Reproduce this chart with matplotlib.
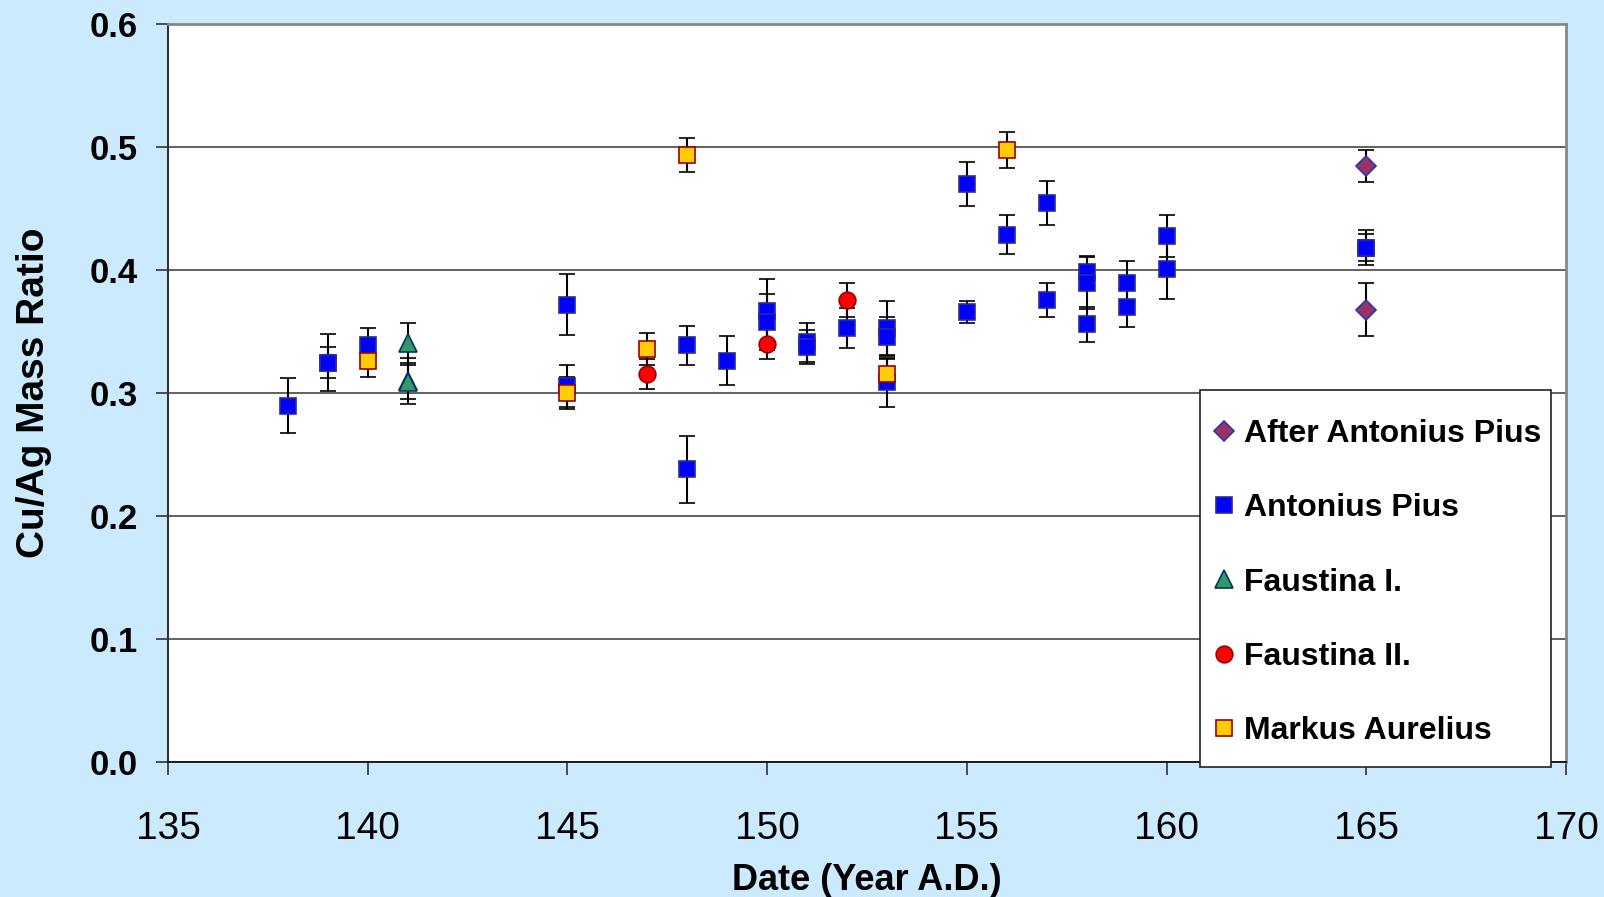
import matplotlib.pyplot as plt
from matplotlib.lines import Line2D
from matplotlib.patches import Rectangle

# -----------------------------
# data
# -----------------------------
after_x = [165, 165]
after_y = [0.485, 0.368]
after_err = [0.013, 0.0215]

anton_x = [138, 139, 139, 140, 145, 145, 148, 148, 149, 150, 150, 151, 151, 152,
           153, 153, 153, 155, 155, 156, 157, 157, 158, 158, 158, 159, 159,
           160, 160, 165, 165]
anton_y = [0.290, 0.325, 0.325, 0.339, 0.372, 0.306, 0.339, 0.238, 0.3265, 0.367,
           0.358, 0.3415, 0.3375, 0.353, 0.353, 0.346, 0.309, 0.470, 0.366,
           0.429, 0.455, 0.376, 0.399, 0.3895, 0.356, 0.3895, 0.3705,
           0.428, 0.401, 0.4185, 0.4185]
anton_err = [0.022, 0.023, 0.013, 0.014, 0.025, 0.017, 0.016, 0.027, 0.020, 0.026,
             0.023, 0.016, 0.014, 0.016, 0.022, 0.016, 0.020, 0.018, 0.009,
             0.016, 0.018, 0.014, 0.013, 0.021, 0.014, 0.018, 0.017,
             0.017, 0.024, 0.014, 0.011]

faust1_x = [141, 141, 141]
faust1_y = [0.341, 0.310, 0.309]
faust1_err = [0.016, 0.019, 0.014]

faust2_x = [147, 150, 152]
faust2_y = [0.3155, 0.340, 0.376]
faust2_err = [0.012, 0.012, 0.014]

markus_x = [140, 145, 147, 148, 153, 156]
markus_y = [0.326, 0.300, 0.336, 0.494, 0.3155, 0.498]
markus_err = [0.013, 0.013, 0.013, 0.014, 0.012, 0.0145]

serie = [
    ("After Antonius Pius", after_x, after_y, after_err, "D", "#993366", "#3333AA", 10),
    ("Antonius Pius", anton_x, anton_y, anton_err, "s", "#0000FF", "#2A2A9A", 11.5),
    ("Faustina I.", faust1_x, faust1_y, faust1_err, "^", "#339966", "#003366", 13),
    ("Faustina II.", faust2_x, faust2_y, faust2_err, "o", "#FF0000", "#990000", 12),
    ("Markus Aurelius", markus_x, markus_y, markus_err, "s", "#FFCC00", "#990000", 11.5),
]

BG = "#CCEAFD"
plt.rcParams["font.family"] = ["Liberation Sans", "DejaVu Sans"]

fig = plt.figure(figsize=(16.04, 8.97), dpi=100, facecolor=BG)
ax = fig.add_axes([0.1047, 0.1505, 0.8716, 0.8222])
ax.set_facecolor("white")

handles = []
for nazev, x, y, err, mk, fc, ec, ms in serie:
    ax.errorbar(x, y, yerr=err, fmt=mk, ms=ms, mfc=fc, mec=ec, mew=1.2,
                ecolor="black", elinewidth=1.5, capsize=6, capthick=1.5,
                zorder=3)
    handles.append(Line2D([], [], ls="none", marker=mk, ms=ms, mfc=fc,
                          mec=ec, mew=1.2, label=nazev))

ax.set_xlim(135, 170)
ax.set_ylim(0, 0.6)
ax.set_xticks(range(135, 171, 5))
ax.set_yticks([i / 10 for i in range(7)])
ax.set_yticklabels([f"{i / 10:.1f}" for i in range(7)])

ax.grid(True, axis="y", color="#555555", lw=1.3, zorder=0)
ax.set_axisbelow(True)

for s in ["top", "right"]:
    ax.spines[s].set_color("#888888")
    ax.spines[s].set_linewidth(2)
ax.spines["left"].set_color("#333333")
ax.spines["bottom"].set_color("#111111")
ax.spines["left"].set_linewidth(1.5)
ax.spines["bottom"].set_linewidth(1.3)

ax.tick_params(axis="y", direction="out", length=9, width=1.2, pad=13,
               labelsize=25, color="#333333")
ax.tick_params(axis="x", direction="out", length=9, width=1.2, pad=26,
               labelsize=28, color="#333333")
for t in ax.get_yticklabels():
    t.set_fontweight("bold")

ax.set_xlabel("Date (Year A.D.)", fontsize=26, fontweight="bold")
ax.set_ylabel("Cu/Ag Mass Ratio", fontsize=28, fontweight="bold")
ax.xaxis.set_label_coords(0.5, -0.137)
ax.yaxis.set_label_coords(-0.083, 0.5)

# rámeček legendy
fig.patches.append(Rectangle((1200 / 1604, 1 - 767 / 897), 351 / 1604, 377 / 897,
                             transform=fig.transFigure, facecolor="white",
                             edgecolor="#222222", lw=1.2, zorder=5))

leg = fig.legend(handles=handles, loc="upper left",
                 bbox_to_anchor=(1194 / 1604, 1 - 390 / 897),
                 borderaxespad=0, prop={"size": 23, "weight": "bold"},
                 frameon=False, handlelength=0.1, handletextpad=0.55,
                 borderpad=0.9, labelspacing=1.39)
leg.set_zorder(6)

fig.savefig("out.png", dpi=100, facecolor=BG)
